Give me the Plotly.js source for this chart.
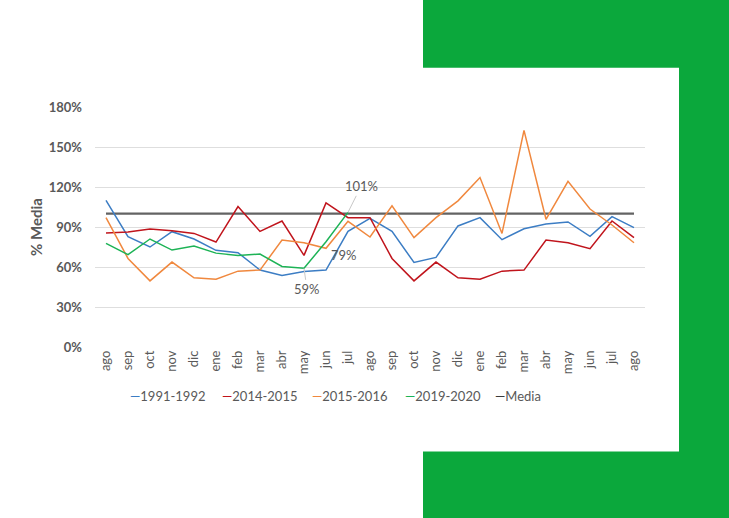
<!DOCTYPE html>
<html>
<head>
<meta charset="utf-8">
<script src="https://cdn.plot.ly/plotly-3.0.1.min.js"></script>
<style>
html,body{margin:0;padding:0;background:#fff;}
#chart{width:729px;height:518px;}
</style>
</head>
<body>
<div id="chart"></div>
<script>
var months = ["ago","sep","oct","nov","dic","ene","feb","mar","abr","may","jun","jul","ago","sep","oct","nov","dic","ene","feb","mar","abr","may","jun","jul","ago"];
var s1991 = [110, 82.7, 75, 86.5, 81, 72.5, 70.7, 57.7, 53.6, 56.7, 57.7, 86.7, 96.5, 86.7, 63.4, 67.2, 90.8, 97, 80.5, 88.7, 92.3, 93.8, 83, 97.8, 89.5];
var s2014 = [85.5, 86.2, 88.5, 87.2, 85.2, 78.7, 105.3, 86.7, 94.5, 68.7, 108, 97, 97, 66.4, 49.6, 63.7, 51.9, 50.9, 56.9, 57.7, 80.2, 78.2, 73.7, 94.5, 82];
var s2015 = [97, 66.4, 49.6, 63.7, 51.9, 50.9, 56.9, 57.7, 80.2, 78.2, 74, 94.3, 82.5, 105.8, 82, 97, 109.6, 127.1, 85.2, 162.5, 95.8, 124.3, 103.5, 91.5, 78.2];
var s2019 = [77.7, 69.2, 81, 72.7, 75.7, 70.4, 68.7, 69.7, 60.4, 59, 79, 101];
var media = months.map(function(){return 100;});
var yTicks = [0, 30, 60, 90, 120, 150, 180];
var seriesNames = ["1991-1992", "2014-2015", "2015-2016", "2019-2020", "Media"];
var seriesColors = ["#3C7DC4", "#C0141C", "#F0883E", "#1DB356", "#3a3a3a"];
var lineColors = ["#3C7DC4", "#C0141C", "#F0883E", "#1DB356", "#636363"];
var lineWidths = [1.5, 1.5, 1.5, 1.5, 2.2];

var idx = months.map(function(_, i){return i;});
var font = "Lato, 'Open Sans', sans-serif";
var gray = "#595959";
var allSeries = [s1991, s2014, s2015, s2019, media];

var data = allSeries.map(function(y, k){
  return {x: idx.slice(0, y.length), y: y, name: seriesNames[k], type: "scatter", mode: "lines",
    line: {color: lineColors[k], width: lineWidths[k]}, hoverinfo: "skip", showlegend: false};
});
// draw Media first so the series sit on top
data = [data[4], data[0], data[1], data[2], data[3]];

function lab(i, series, txt, ax, ay){
  return {x: i, y: series[i], xref: "x", yref: "y", text: txt, showarrow: true,
    arrowhead: 0, arrowwidth: 1, arrowcolor: "#c8c8c8", ax: ax, ay: ay,
    font: {family: font, size: 13, color: gray}};
}

// legend entries drawn as text (short Excel-style line keys)
var legendX = [128, 220, 310, 403, 493];
var legendAnn = seriesNames.map(function(n, k){
  return {xref: "paper", yref: "paper", x: (legendX[k] - 95) / 550, y: -0.205,
    xanchor: "left", yanchor: "middle", showarrow: false,
    text: '<span style="color:' + seriesColors[k] + '">\u2014</span>' + n,
    font: {family: font, size: 13, color: gray}};
});

var layout = {
  width: 729, height: 518,
  margin: {l: 95, r: 84, t: 107, b: 171},
  paper_bgcolor: "#ffffff",
  plot_bgcolor: "rgba(0,0,0,0)",
  showlegend: false,
  xaxis: {range: [-0.5, 24.5], tickvals: idx, ticktext: months, tickangle: -90,
    showgrid: false, zeroline: false, showline: false, ticks: "",
    tickfont: {family: font, size: 13, color: gray}, fixedrange: true},
  yaxis: {range: [0, 180], tickvals: yTicks, ticktext: yTicks.map(function(v){return "<b>" + v + "%</b>";}),
    showgrid: true, gridcolor: "#dedede", gridwidth: 1, zeroline: false, showline: false,
    ticks: "", ticklabelstandoff: 12,
    tickfont: {family: font, size: 13, color: gray},
    title: {text: "<b>% Media</b>", font: {family: font, size: 15, color: gray}, standoff: 2},
    fixedrange: true},
  shapes: [
    {type: "rect", xref: "paper", yref: "paper", layer: "below",
      x0: (423-95)/550, x1: (729-95)/550, y0: (346-518)/239, y1: 346/239,
      fillcolor: "#0BA83C", line: {width: 0}},
    {type: "rect", xref: "paper", yref: "paper", layer: "below",
      x0: -95/550, x1: (679-95)/550, y0: (346-450)/239, y1: (346-68)/239,
      fillcolor: "#ffffff", line: {width: 0}}
  ],
  annotations: [
    lab(11, s2019, "101%", 13, -26),
    lab(10, s2019, "79%", 18, 13),
    lab(9, s2019, "59%", 3, 21)
  ].concat(legendAnn)
};

Plotly.newPlot("chart", data, layout, {staticPlot: true, displayModeBar: false});
</script>
</body>
</html>
